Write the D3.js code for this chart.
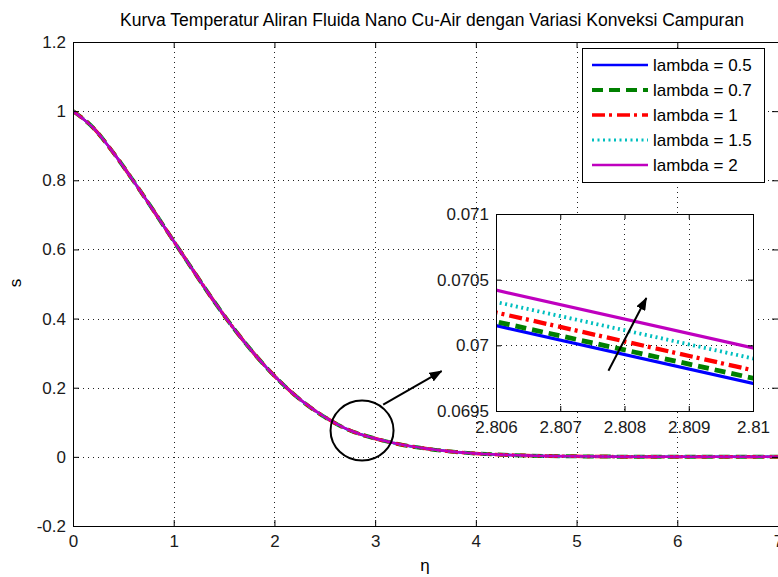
<!DOCTYPE html>
<html>
<head>
<meta charset="utf-8">
<script src="https://cdn.jsdelivr.net/npm/d3@7"></script>
<style>
  html, body { margin: 0; padding: 0; background: #fff; }
  svg { display: block; font-family: "Liberation Sans", Arial, Helvetica, sans-serif; }
</style>
</head>
<body>
<svg id="chart" width="778" height="577"></svg>
<script>
// Temperature profile s(eta) for Cu-water nanofluid, five mixed-convection parameters
const chartTitle = "Kurva Temperatur Aliran Fluida Nano Cu-Air dengan Variasi Konveksi Campuran";
const lambdas = [0.5, 0.7, 1, 1.5, 2];
const eta = [0, 0.2, 0.4, 0.6, 0.8, 1.0, 1.2, 1.4, 1.6, 1.8, 2.0, 2.25, 2.5, 2.75, 2.806, 2.81, 3.0, 3.25, 3.5, 3.75, 4.0, 4.5, 5.0, 5.5, 6.0, 6.5, 7.0];
const sLambda05 = [1, 0.952, 0.880, 0.798, 0.712, 0.624, 0.536, 0.450, 0.370, 0.298, 0.2339, 0.1668, 0.1148, 0.07625, 0.07015, 0.06971, 0.05285, 0.0359, 0.0239, 0.0155, 0.0098, 0.0038, 0.0014, 0.0005, 0.0002, 0.0001, 0];
const sLambda07 = [1, 0.952, 0.880, 0.798, 0.712, 0.624, 0.536, 0.450, 0.370, 0.298, 0.2340, 0.1669, 0.1149, 0.07628, 0.07018, 0.06975, 0.05288, 0.0359, 0.0239, 0.0155, 0.0098, 0.0038, 0.0014, 0.0005, 0.0002, 0.0001, 0];
const sLambda1  = [1, 0.952, 0.880, 0.798, 0.712, 0.624, 0.536, 0.450, 0.370, 0.298, 0.2341, 0.1670, 0.1150, 0.07636, 0.07025, 0.06981, 0.05294, 0.0360, 0.0240, 0.0155, 0.0098, 0.0038, 0.0014, 0.0005, 0.0002, 0.0001, 0];
const sLambda15 = [1, 0.952, 0.880, 0.798, 0.712, 0.624, 0.536, 0.450, 0.370, 0.298, 0.2342, 0.1671, 0.1151, 0.07645, 0.07033, 0.06990, 0.05302, 0.0360, 0.0240, 0.0156, 0.0098, 0.0038, 0.0014, 0.0005, 0.0002, 0.0001, 0];
const sLambda2  = [1, 0.952, 0.880, 0.798, 0.712, 0.624, 0.536, 0.450, 0.370, 0.298, 0.2343, 0.1672, 0.1152, 0.07654, 0.07042, 0.06998, 0.05310, 0.0361, 0.0241, 0.0156, 0.0099, 0.0038, 0.0014, 0.0005, 0.0002, 0.0001, 0];
const seriesValues = [sLambda05, sLambda07, sLambda1, sLambda15, sLambda2];

// axis ticks
const xTicks = [0, 1, 2, 3, 4, 5, 6, 7];
const yTicks = [-0.2, 0, 0.2, 0.4, 0.6, 0.8, 1, 1.2];
const yTickLabels = ["-0.2", "0", "0.2", "0.4", "0.6", "0.8", "1", "1.2"];
const insetXTicks = [2.806, 2.807, 2.808, 2.809, 2.81];
const insetXTickLabels = ["2.806", "2.807", "2.808", "2.809", "2.81"];
const insetYTicks = [0.0695, 0.07, 0.0705, 0.071];
const insetYTickLabels = ["0.0695", "0.07", "0.0705", "0.071"];

// annotation anchors (data coordinates)
const zoomCircleAt = [2.87, 0.076];
const zoomArrow = [[3.08, 0.151], [3.66, 0.248]];
const insetArrow = [[2.80775, 0.069807], [2.80834, 0.07036]];

// styles
const styles = [
  { color: "#0000ff", width: 2.5, dash: null },
  { color: "#008000", width: 4,   dash: "11,6" },
  { color: "#ff0000", width: 3.5, dash: "13,4,3,5" },
  { color: "#00bfbf", width: 3,   dash: "2,3.5" },
  { color: "#bf00bf", width: 2.5, dash: null }
];

const svg = d3.select("#chart");
const FONT = 17;

const plot = { left: 73, right: 778, top: 42, bottom: 526 };
const x = d3.scaleLinear().domain([0, 7]).range([plot.left, plot.right]);
const y = d3.scaleLinear().domain([-0.2, 1.2]).range([plot.bottom, plot.top]);

const ins = { left: 496, right: 753, top: 214, bottom: 411 };
const xi = d3.scaleLinear().domain([2.806, 2.81]).range([ins.left, ins.right]);
const yi = d3.scaleLinear().domain([0.0695, 0.071]).range([ins.bottom, ins.top]);

const defs = svg.append("defs");
defs.append("clipPath").attr("id", "clipMain").append("rect")
  .attr("x", plot.left).attr("y", plot.top)
  .attr("width", plot.right - plot.left).attr("height", plot.bottom - plot.top);
defs.append("clipPath").attr("id", "clipInset").append("rect")
  .attr("x", ins.left).attr("y", ins.top)
  .attr("width", ins.right - ins.left).attr("height", ins.bottom - ins.top);
defs.append("marker").attr("id", "arrowHead")
  .attr("viewBox", "0 -5 13 10").attr("refX", 12).attr("refY", 0)
  .attr("markerWidth", 13).attr("markerHeight", 10)
  .attr("markerUnits", "userSpaceOnUse").attr("orient", "auto")
  .append("path").attr("d", "M0,-5L13,0L0,5Z").attr("fill", "#000");

const series = lambdas.map((lam, i) => ({
  lam, style: styles[i],
  pts: eta.map((e, j) => [e, seriesValues[i][j]])
}));

// ---------- main axes ----------
svg.append("rect").attr("x", plot.left).attr("y", plot.top)
  .attr("width", plot.right - plot.left).attr("height", plot.bottom - plot.top)
  .attr("fill", "#fff");

const grid = svg.append("g").attr("stroke", "#222").attr("stroke-width", 1)
  .attr("stroke-dasharray", "1,4").attr("shape-rendering", "crispEdges");
grid.selectAll("line.gx").data(xTicks.slice(1, -1)).join("line")
  .attr("x1", d => Math.round(x(d)) + 0.5).attr("x2", d => Math.round(x(d)) + 0.5)
  .attr("y1", plot.top).attr("y2", plot.bottom);
grid.selectAll("line.gy").data(yTicks.slice(1, -1)).join("line")
  .attr("y1", d => Math.round(y(d)) + 0.5).attr("y2", d => Math.round(y(d)) + 0.5)
  .attr("x1", plot.left).attr("x2", plot.right);

const lineMain = d3.line().x(d => x(d[0])).y(d => y(d[1])).curve(d3.curveMonotoneX);
const gLines = svg.append("g").attr("clip-path", "url(#clipMain)").attr("fill", "none");
gLines.selectAll("path").data(series).join("path")
  .attr("d", d => lineMain(d.pts))
  .attr("stroke", d => d.style.color)
  .attr("stroke-width", d => d.style.width)
  .attr("stroke-dasharray", d => d.style.dash)
  .attr("stroke-linejoin", "round");

function styleAxis(g) {
  g.select(".domain").remove();
  g.selectAll(".tick line").attr("stroke", "#000").attr("stroke-width", 1);
  g.selectAll(".tick text").attr("fill", "#1a1a1a").attr("font-size", FONT)
    .attr("font-family", "Liberation Sans, Arial, sans-serif");
}

svg.append("g").attr("transform", `translate(0,${plot.bottom})`)
  .call(d3.axisBottom(x).tickValues(xTicks).tickFormat(d3.format("d")).tickSize(-6).tickPadding(9))
  .call(styleAxis);
svg.append("g").attr("transform", `translate(0,${plot.top})`)
  .call(d3.axisTop(x).tickValues(xTicks).tickFormat("").tickSize(-6))
  .call(styleAxis);
svg.append("g").attr("transform", `translate(${plot.left},0)`)
  .call(d3.axisLeft(y).tickValues(yTicks).tickFormat((d, i) => yTickLabels[i]).tickSize(-6).tickPadding(7))
  .call(styleAxis);
svg.append("g").attr("transform", `translate(${plot.right},0)`)
  .call(d3.axisRight(y).tickValues(yTicks).tickFormat("").tickSize(-6))
  .call(styleAxis);

svg.append("rect").attr("x", plot.left + 0.5).attr("y", plot.top + 0.5)
  .attr("width", plot.right - plot.left).attr("height", plot.bottom - plot.top)
  .attr("fill", "none").attr("stroke", "#000").attr("stroke-width", 1);

// title and axis labels
svg.append("text").attr("x", 432).attr("y", 26).attr("text-anchor", "middle")
  .attr("font-size", 17.5).attr("fill", "#000").text(chartTitle);
svg.append("text").attr("transform", "translate(21,283) rotate(-90)")
  .attr("text-anchor", "middle").attr("font-size", FONT).attr("fill", "#000").text("s");
svg.append("text").attr("x", 425).attr("y", 571).attr("text-anchor", "middle")
  .attr("font-size", FONT).attr("fill", "#000").text("\u03b7");

// ---------- zoom annotation ----------
svg.append("ellipse")
  .attr("cx", x(zoomCircleAt[0])).attr("cy", y(zoomCircleAt[1]))
  .attr("rx", 31.5).attr("ry", 30)
  .attr("fill", "none").attr("stroke", "#000").attr("stroke-width", 2);
svg.append("line")
  .attr("x1", x(zoomArrow[0][0])).attr("y1", y(zoomArrow[0][1]))
  .attr("x2", x(zoomArrow[1][0])).attr("y2", y(zoomArrow[1][1]))
  .attr("stroke", "#000").attr("stroke-width", 2).attr("marker-end", "url(#arrowHead)");

// ---------- inset axes ----------
svg.append("rect").attr("x", ins.left).attr("y", ins.top)
  .attr("width", ins.right - ins.left).attr("height", ins.bottom - ins.top)
  .attr("fill", "#fff");
const gridI = svg.append("g").attr("stroke", "#222").attr("stroke-width", 1)
  .attr("stroke-dasharray", "1,4").attr("shape-rendering", "crispEdges");
gridI.selectAll("line.gx").data(insetXTicks.slice(1, -1)).join("line")
  .attr("x1", d => Math.round(xi(d)) + 0.5).attr("x2", d => Math.round(xi(d)) + 0.5)
  .attr("y1", ins.top).attr("y2", ins.bottom);
gridI.selectAll("line.gy").data(insetYTicks.slice(1, -1)).join("line")
  .attr("y1", d => Math.round(yi(d)) + 0.5).attr("y2", d => Math.round(yi(d)) + 0.5)
  .attr("x1", ins.left).attr("x2", ins.right);

const lineInset = d3.line().x(d => xi(d[0])).y(d => yi(d[1]));
const gInset = svg.append("g").attr("clip-path", "url(#clipInset)").attr("fill", "none");
gInset.selectAll("path").data(series).join("path")
  .attr("d", d => lineInset(d.pts.filter(p => p[0] >= 2.75 && p[0] <= 3.0)))
  .attr("stroke", d => d.style.color)
  .attr("stroke-width", d => d.style.width + 0.8)
  .attr("stroke-dasharray", d => d.style.dash);

svg.append("g").attr("transform", `translate(0,${ins.bottom})`)
  .call(d3.axisBottom(xi).tickValues(insetXTicks).tickFormat((d, i) => insetXTickLabels[i]).tickSize(-5).tickPadding(10))
  .call(styleAxis);
svg.append("g").attr("transform", `translate(0,${ins.top})`)
  .call(d3.axisTop(xi).tickValues(insetXTicks).tickFormat("").tickSize(-5))
  .call(styleAxis);
svg.append("g").attr("transform", `translate(${ins.left},0)`)
  .call(d3.axisLeft(yi).tickValues(insetYTicks).tickFormat((d, i) => insetYTickLabels[i]).tickSize(-5).tickPadding(7))
  .call(styleAxis);
svg.append("g").attr("transform", `translate(${ins.right},0)`)
  .call(d3.axisRight(yi).tickValues(insetYTicks).tickFormat("").tickSize(-5))
  .call(styleAxis);
svg.append("rect").attr("x", ins.left + 0.5).attr("y", ins.top + 0.5)
  .attr("width", ins.right - ins.left).attr("height", ins.bottom - ins.top)
  .attr("fill", "none").attr("stroke", "#000").attr("stroke-width", 1);

svg.append("line")
  .attr("x1", xi(insetArrow[0][0])).attr("y1", yi(insetArrow[0][1]))
  .attr("x2", xi(insetArrow[1][0])).attr("y2", yi(insetArrow[1][1]))
  .attr("stroke", "#000").attr("stroke-width", 2).attr("marker-end", "url(#arrowHead)");

// ---------- legend ----------
const leg = { x: 582, y: 48, w: 182, h: 134, rowTop: 17, rowStep: 25 };
svg.append("rect").attr("x", leg.x + 0.5).attr("y", leg.y + 0.5)
  .attr("width", leg.w).attr("height", leg.h)
  .attr("fill", "#fff").attr("stroke", "#000").attr("stroke-width", 1);
const rows = svg.append("g").selectAll("g").data(series).join("g")
  .attr("transform", (d, i) => `translate(${leg.x},${leg.y + leg.rowTop + i * leg.rowStep})`);
rows.append("line").attr("x1", 10).attr("x2", 66).attr("y1", 0).attr("y2", 0)
  .attr("stroke", d => d.style.color)
  .attr("stroke-width", d => d.style.width)
  .attr("stroke-dasharray", d => d.style.dash);
rows.append("text").attr("x", 71).attr("y", 0).attr("dy", "0.35em")
  .attr("font-size", FONT).attr("fill", "#000")
  .text(d => "lambda = " + d.lam);
</script>
</body>
</html>
